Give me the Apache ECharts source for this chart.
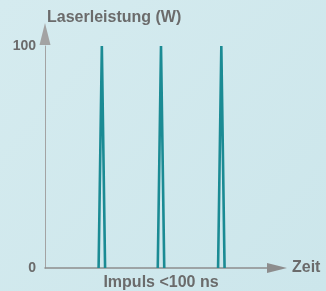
<!DOCTYPE html>
<html>
<head>
<meta charset="utf-8">
<script src="https://cdn.jsdelivr.net/npm/echarts@6/dist/echarts.min.js"></script>
<style>
  html, body { margin: 0; padding: 0; background: #d0e8ed; }
  #chart { width: 326px; height: 291px; }
</style>
</head>
<body>
<div id="chart"></div>
<script>
// Zeitachse (willkürliche Einheiten), drei Laserpulse
const pulse1X = [231, 245, 259]
const pulse2X = [486, 500, 514]
const pulse3X = [746, 760, 774]
const pulseY = [0, 100, 0]
const yTicks = [0, 100]

const yLabel = 'Laserleistung (W)'
const xLabel = 'Zeit'
const pulseLabel = 'Impuls <100 ns'

const textColor = '#6b6b6b'
const lineColor = '#1b8b94'
const axisColor = '#8d8d8d'

const toPoints = xs => xs.map((x, i) => [x, pulseY[i]])

const chart = echarts.init(document.getElementById('chart'))

const pulseSeries = [pulse1X, pulse2X, pulse3X].map(xs => ({
  type: 'line',
  data: toPoints(xs),
  symbol: 'none',
  lineStyle: { color: lineColor, width: 2.6, join: 'bevel' },
  z: 3,
}))

chart.setOption({
  animation: false,
  backgroundColor: {
    type: 'linear', x: 0, y: 0, x2: 1, y2: 1,
    colorStops: [
      { offset: 0, color: '#d5ebef' },
      { offset: 1, color: '#cce6eb' },
    ],
  },
  textStyle: { fontFamily: 'Liberation Sans, Arial, sans-serif' },
  grid: { left: 45, right: 49, top: 46, bottom: 23, outerBoundsMode: 'none', containLabel: false },
  xAxis: [
    {
      type: 'value',
      min: 0,
      max: 1000,
      name: xLabel,
      nameLocation: 'end',
      nameGap: 15,
      nameTextStyle: { color: textColor, fontSize: 16, fontWeight: 'bold', align: 'left', verticalAlign: 'middle' },
      axisLine: {
        lineStyle: { color: axisColor, width: 1.5 },
        symbol: ['none', 'triangle'],
        symbolSize: [10, 20],
      },
      axisTick: { show: false },
      axisLabel: { show: false },
      splitLine: { show: false },
    },
    {
      type: 'value',
      position: 'bottom',
      min: 0,
      max: 1000,
      name: pulseLabel,
      nameLocation: 'middle',
      nameGap: 15,
      nameTextStyle: { color: textColor, fontSize: 16, fontWeight: 'bold', verticalAlign: 'middle' },
      axisLine: { show: false },
      axisTick: { show: false },
      axisLabel: { show: false },
      splitLine: { show: false },
    },
  ],
  yAxis: {
    type: 'value',
    min: yTicks[0],
    max: yTicks[1],
    interval: yTicks[1] - yTicks[0],
    name: yLabel,
    nameLocation: 'end',
    nameGap: 28,
    nameTextStyle: { color: textColor, fontSize: 16, fontWeight: 'bold', align: 'left', verticalAlign: 'middle', padding: [0, 0, 0, 2] },
    axisLine: {
      lineStyle: { color: '#a3a3a3', width: 1 },
      symbol: ['none', 'triangle'],
      symbolSize: [11, 22],
      symbolOffset: [0, 12],
    },
    axisTick: { show: false },
    axisLabel: { color: textColor, fontSize: 14, fontWeight: 'bold', margin: 9 },
    splitLine: { show: false },
  },
  series: pulseSeries,
})
</script>
</body>
</html>
